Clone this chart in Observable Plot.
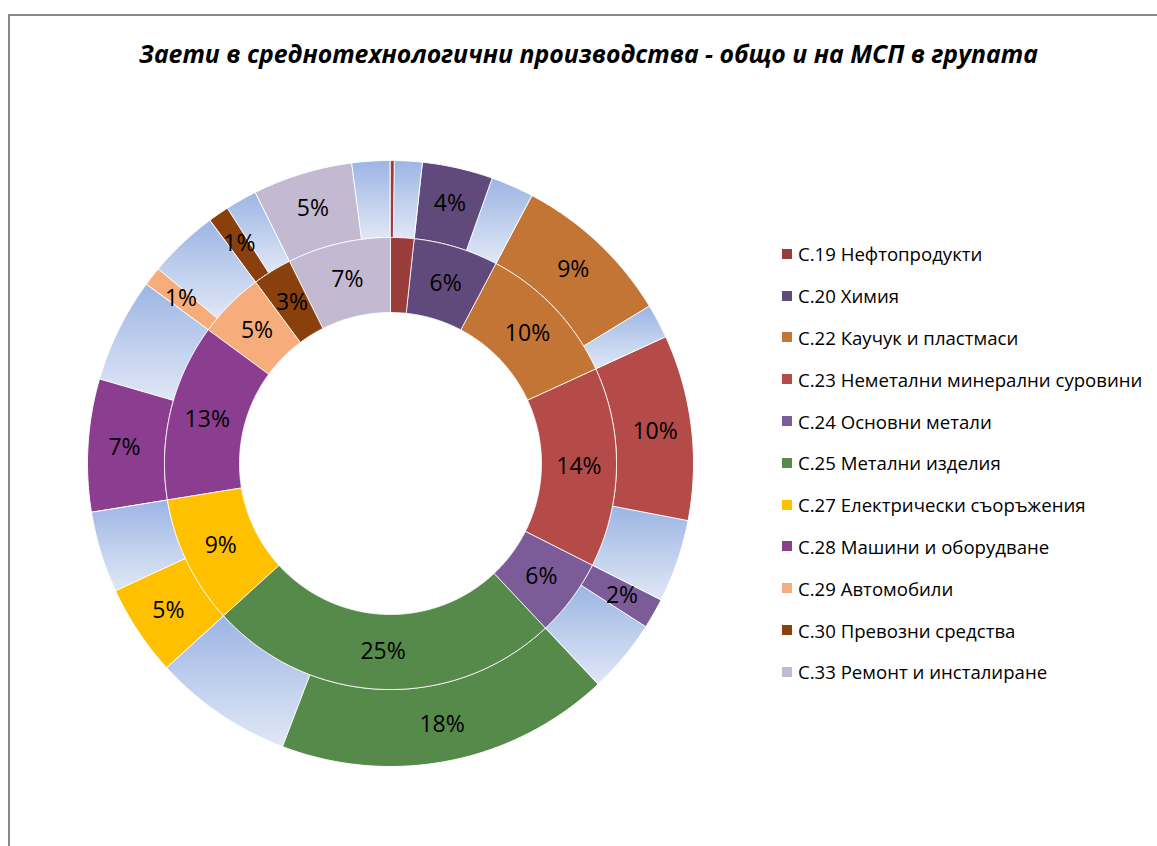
<!DOCTYPE html>
<html><head><meta charset="utf-8">
<script src="https://cdn.jsdelivr.net/npm/d3@7"></script>
<script src="https://cdn.jsdelivr.net/npm/@observablehq/plot@0.6"></script>
<style>
body{margin:0;background:#fff;}
#frame{position:relative;width:1157px;height:846px;overflow:hidden;font-family:"Open Sans",sans-serif;color:#000;}
.bt{position:absolute;left:8px;top:14px;width:1160px;height:2px;background:#878787;}
.bl{position:absolute;left:8px;top:14px;width:2px;height:840px;background:#878787;}
#title{position:absolute;left:0;width:1177px;top:36px;text-align:center;font-weight:bold;font-style:italic;font-size:24.8px;line-height:34px;white-space:nowrap;}
#chart{position:absolute;left:70px;top:143px;}
#legend{position:absolute;left:782px;top:233px;}
.item{display:flex;align-items:center;height:41.8px;font-size:18.6px;white-space:nowrap;}
.sw{width:10px;height:10px;margin-right:6px;flex:none;}
</style></head>
<body>
<div id="frame">
  <div class="bt"></div><div class="bl"></div>
  <div id="title">Заети в среднотехнологични производства - общо и на МСП в групата</div>
  <div id="chart"></div>
  <div id="legend"></div>
</div>
<script>
const categories = ["С.19 Нефтопродукти","С.20 Химия","С.22 Каучук и пластмаси","С.23 Неметални минерални суровини","С.24 Основни метали","С.25 Метални изделия","С.27 Електрически съоръжения","С.28 Машини и оборудване","С.29 Автомобили","С.30 Превозни средства","С.33 Ремонт и инсталиране"];
// share of all employed (inner ring), %
const totalShare = [1.7, 6.05, 10.4, 14.3, 5.55, 25.25, 9.2, 12.65, 4.75, 2.8, 7.35];
// share employed in SMEs (outer ring coloured part), %
const smeShare = [0.2, 3.75, 8.55, 9.87, 1.6, 17.8, 4.85, 7.05, 1.0, 1.1, 5.3];
const colors = ["#993c3a","#604a7b","#c27535","#b44b48","#7b5c98","#558a4a","#ffc000","#8b3d8f","#f7ad7b","#8a400c","#c3bad2"];

const R0 = 151, R1 = 226, R2 = 303;
const total = d3.sum(totalShare);
const pct = v => Math.round(v / total * 100) + "%";

const innerArcs = d3.pie().sort(null).value(d => d.v)(categories.map((c, i) => ({c, v: totalShare[i], key: "in" + i})));
const outerArcs = d3.pie().sort(null).value(d => d.v)(categories.flatMap((c, i) => [
  {c, kind: "sme", v: smeShare[i], key: "sme" + i},
  {c, kind: "rest", v: totalShare[i] - smeShare[i], key: "rest" + i}
]));

function poly(a, r0, r1) {
  const n = Math.max(2, Math.ceil((a.endAngle - a.startAngle) / (Math.PI / 360)));
  const pts = [];
  for (let k = 0; k <= n; k++) { const t = a.startAngle + (a.endAngle - a.startAngle) * k / n; pts.push({key: a.data.key, c: a.data.c, x: r1 * Math.sin(t), y: r1 * Math.cos(t)}); }
  for (let k = n; k >= 0; k--) { const t = a.startAngle + (a.endAngle - a.startAngle) * k / n; pts.push({key: a.data.key, c: a.data.c, x: r0 * Math.sin(t), y: r0 * Math.cos(t)}); }
  return pts;
}
function label(a, r) {
  const t = (a.startAngle + a.endAngle) / 2;
  return {x: r * Math.sin(t), y: r * Math.cos(t), text: pct(a.data.v), v: a.data.v / total * 100};
}

const innerPts = innerArcs.flatMap(a => poly(a, R0, R1));
const smePts = outerArcs.filter(a => a.data.kind === "sme").flatMap(a => poly(a, R1, R2));
const restPts = outerArcs.filter(a => a.data.kind === "rest").flatMap(a => poly(a, R1, R2));
const innerLabels = innerArcs.map(a => label(a, (R0 + R1) / 2)).filter(d => d.v >= 2);
const outerLabels = outerArcs.filter(a => a.data.kind === "sme").map(a => label(a, (R1 + R2) / 2 + 2)).filter(d => d.v >= 0.5);

const plot = Plot.plot({
  width: 640, height: 640, margin: 0,
  x: {domain: [-320, 320], axis: null},
  y: {domain: [-320, 320], axis: null},
  color: {domain: categories, range: colors},
  style: {fontFamily: "Open Sans", background: "transparent"},
  marks: [
    Plot.line(restPts, {x: "x", y: "y", z: "key", fill: "url(#blueGrad)", stroke: "white", strokeWidth: 1, curve: "linear-closed"}),
    Plot.line(smePts, {x: "x", y: "y", z: "key", fill: "c", stroke: "white", strokeWidth: 1, curve: "linear-closed"}),
    Plot.line(innerPts, {x: "x", y: "y", z: "key", fill: "c", stroke: "white", strokeWidth: 1, strokeOpacity: 0.8, curve: "linear-closed"}),
    Plot.text(innerLabels, {x: "x", y: "y", text: "text", fontSize: 23, fill: "black", fontFamily: "Open Sans"}),
    Plot.text(outerLabels, {x: "x", y: "y", text: "text", fontSize: 23, fill: "black", fontFamily: "Open Sans"})
  ]
});
const defs = d3.select(plot).insert("defs", ":first-child");
const g = defs.append("linearGradient").attr("id", "blueGrad").attr("x1", 0).attr("y1", 0).attr("x2", 0).attr("y2", 1);
g.append("stop").attr("offset", "0%").attr("stop-color", "#9cb5e4");
g.append("stop").attr("offset", "100%").attr("stop-color", "#e1e8f6");
document.getElementById("chart").appendChild(plot);

const legend = d3.select("#legend");
categories.forEach((c, i) => {
  const it = legend.append("div").attr("class", "item");
  it.append("div").attr("class", "sw").style("background", colors[i]);
  it.append("span").text(c);
});
</script>
</body></html>
